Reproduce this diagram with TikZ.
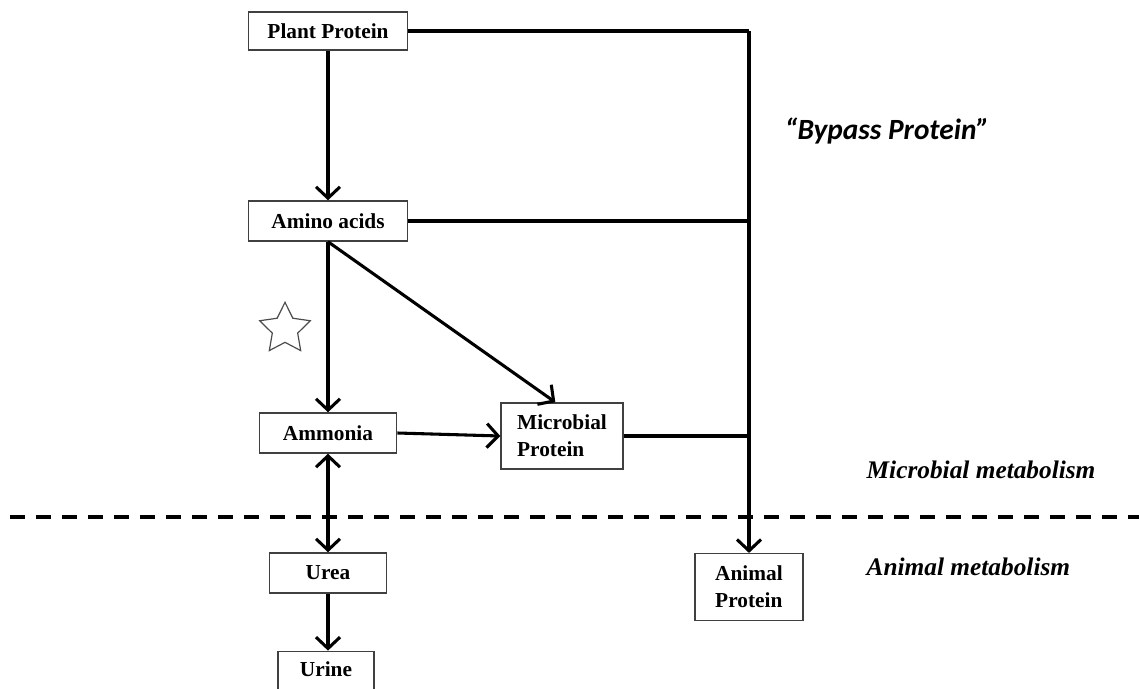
\documentclass[tikz,border=0pt]{standalone}
\usepackage{fontspec}
\setmainfont{Liberation Serif}
\newfontfamily\calibrifont{Carlito}
\usetikzlibrary{positioning,arrows.meta,shapes.geometric}

\begin{document}
\begin{tikzpicture}[x=0.75pt,y=-0.75pt,
				boxnode/.style={rectangle, draw=black!75, line width=1.1pt, fill=white, inner sep=0pt, font=\fontsize{16}{20}\selectfont\bfseries},
				flow/.style={line width=2.3pt, -{Straight Barb[length=8.5pt,width=18pt]}},
				plainline/.style={line width=2.3pt},
				zone/.style={anchor=west, font=\fontsize{19}{23}\selectfont\bfseries\itshape},
				]
				\useasboundingbox (0,0) rectangle (1139,689);
				%Nodes
				\node[boxnode, minimum width=119pt, minimum height=28.5pt]      (plant) 	at 	(328,31)           {Plant Protein};
				\node[boxnode, minimum width=119pt, minimum height=30pt]        (amino) 	at 	(328,221)          {Amino acids};
				\node[boxnode, minimum width=103pt, minimum height=30pt]        (ammonia) 	at 	(328,433)          {Ammonia};
				\node[boxnode, minimum width=91.5pt, minimum height=49.5pt, align=left]  (micro) 	at 	(562,436)  {Microbial\\Protein};
				\node[boxnode, minimum width=88pt, minimum height=30pt]         (urea) 	at 	(328,573)          {Urea};
				\node[boxnode, minimum width=72pt, minimum height=40pt, text depth=13pt]  (urine) 	at 	(326,678)  {Urine};
				\node[boxnode, minimum width=81pt, minimum height=50pt, align=left]      (animal) 	at 	(749,587)  {Animal\\Protein};
				\node[star, star points=5, star point ratio=2.0, draw=black!70, line width=0.9pt, minimum size=40pt, inner sep=0pt] (starsym) at (285,329) {};

				%Labels
				\node[font=\calibrifont\fontsize{22}{26}\selectfont\bfseries\itshape] (bypass) at (887,131) {“Bypass Protein”};
				\node[zone] (microzone) at (862,470) {Microbial metabolism};
				\node[zone] (animalzone) at (862,567) {Animal metabolism};

				%Junctions
				\coordinate (j1) at (749,31);
				\coordinate (j2) at (749,221);
				\coordinate (j3) at (749,436);
				\coordinate (dashL) at (10,517);
				\coordinate (dashR) at (1139,517);

				%Lines
				\draw[plainline] (plant.east) -- (j1);
				\draw[flow] (j1) -- (animal.north);
				\draw[plainline] (amino.east) -- (j2);
				\draw[plainline] (micro.east) -- (j3);

				\draw[flow] (plant.south) -- (amino.north);
				\draw[flow] (amino.south) -- (ammonia.north);
				\draw[flow] (amino.south) -- ([xshift=-5pt]micro.north);
				\draw[flow] (ammonia.east) -- (micro.west);
				\draw[flow, {Straight Barb[length=8.5pt,width=18pt]}-{Straight Barb[length=8.5pt,width=18pt]}] (ammonia.south) -- (urea.north);
				\draw[flow] (urea.south) -- (urea.south |- urine.north);

				\draw[line width=2.8pt, dash pattern=on 11pt off 8.5pt] (dashL) -- (dashR);
			\end{tikzpicture}
\end{document}
